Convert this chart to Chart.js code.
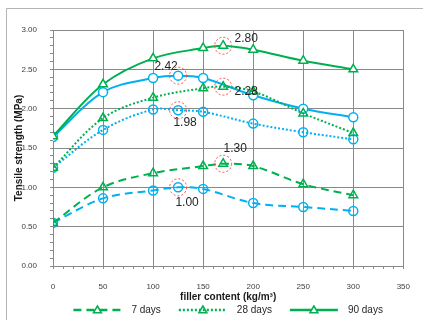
<!DOCTYPE html>
<html><head><meta charset="utf-8">
<script src="https://cdn.jsdelivr.net/npm/chart.js@4/dist/chart.umd.min.js"></script>
<style>html,body{margin:0;padding:0;background:#fff;overflow:hidden}#wrap{position:absolute;left:0;top:0;width:423px;height:320px}</style>
</head><body><div id="wrap"><canvas id="c" width="423" height="320"></canvas></div>
<script>
// ---- data ----
const xGreen = [0, 50, 100, 150, 170, 200, 250, 300];
const xBlue = [0, 50, 100, 125, 150, 200, 250, 300];
const days7 = [0.55, 1.00, 1.18, 1.27, 1.30, 1.27, 1.04, 0.90];
const days28 = [1.25, 1.88, 2.14, 2.26, 2.28, 2.22, 1.94, 1.69];
const days90 = [1.65, 2.31, 2.64, 2.77, 2.80, 2.75, 2.61, 2.50];
const blue7 = [0.55, 0.86, 0.96, 1.00, 0.98, 0.80, 0.75, 0.70];
const blue28 = [1.25, 1.73, 1.99, 1.98, 1.96, 1.81, 1.70, 1.61];
const blue90 = [1.64, 2.21, 2.39, 2.42, 2.39, 2.17, 2.00, 1.89];
const seriesLabels = ['7 days', '28 days', '90 days'];
const annX = [170, 125, 170, 125, 170, 125];
const annY = [2.80, 2.42, 2.28, 1.98, 1.30, 1.00];
const annText = ['2.80', '2.42', '2.28', '1.98', '1.30', '1.00'];
const xMin = 0, xMax = 350, xMajor = 50, xMinor = 10;
const yMin = 0, yMax = 3, yMajor = 0.5, yMinor = 0.1;
const xTitle = 'filler content (kg/m³)';
const yTitle = 'Tensile strength (MPa)';

// ---- styles ----
const GREEN = '#00B050', BLUE = '#00B0F0', GRID = '#898989';
const annOffsets = [[23, -7], [-12, -9], [23, 5], [7, 12], [12, -15], [9, 15]];
const pts = (xs, ys) => xs.map((x, i) => ({x: x, y: ys[i]}));
const isMajor = (v, step) => Math.abs(v / step - Math.round(v / step)) < 1e-6;

function ds(label, xs, ys, color, dash, style, order, inLegend, fill) {
  return {
    label: label, data: pts(xs, ys), borderColor: color, borderWidth: 2,
    borderDash: dash, tension: 0.35, pointStyle: style,
    pointRadius: style === 'triangle' ? 5 : 4.5,
    pointBorderColor: color, pointBorderWidth: 1.5,
    pointBackgroundColor: fill, order: order, inLegend: inLegend, fill: false
  };
}

const datasets = [
  ds(seriesLabels[0], xGreen, days7, GREEN, [8, 5], 'triangle', 0, true, 'rgba(255,255,255,0)'),
  ds(seriesLabels[1], xGreen, days28, GREEN, [2, 2], 'triangle', 0, true, 'rgba(255,255,255,0)'),
  ds(seriesLabels[2], xGreen, days90, GREEN, [], 'triangle', 0, true, '#ffffff'),
  ds('', xBlue, blue7, BLUE, [8, 5], 'circle', 1, false, 'rgba(255,255,255,0)'),
  ds('', xBlue, blue28, BLUE, [2, 2], 'circle', 1, false, 'rgba(255,255,255,0)'),
  ds('', xBlue, blue90, BLUE, [], 'circle', 1, false, '#ffffff')
];

const framePlugin = {
  id: 'frame',
  beforeDraw(chart) {
    const c = chart.ctx;
    c.save();
    c.fillStyle = '#fff';
    c.fillRect(0, 0, chart.width, chart.height);
    c.strokeStyle = '#b4b4b4'; c.lineWidth = 1;
    c.beginPath();
    c.moveTo(6.5, chart.height); c.lineTo(6.5, 8.5); c.lineTo(chart.width, 8.5);
    c.stroke();
    c.restore();
  }
};

const annPlugin = {
  id: 'ann',
  afterDatasetsDraw(chart) {
    const c = chart.ctx, xs = chart.scales.x, ys = chart.scales.y;
    c.save();
    annX.forEach((v, i) => {
      const px = xs.getPixelForValue(v), py = ys.getPixelForValue(annY[i]);
      c.beginPath();
      c.setLineDash([2, 2]);
      c.strokeStyle = 'rgba(255,70,70,1)'; c.lineWidth = 1;
      c.arc(px, py, 8.5, 0, Math.PI * 2);
      c.stroke();
      c.setLineDash([]);
      c.fillStyle = '#262626';
      c.font = '12px "Liberation Sans", Arial, sans-serif';
      c.textAlign = 'center'; c.textBaseline = 'middle';
      c.fillText(annText[i], px + annOffsets[i][0], py + annOffsets[i][1]);
    });
    c.restore();
  }
};

const legendPlugin = {
  id: 'customLegend',
  afterDraw(chart) {
    const c = chart.ctx;
    const items = chart.data.datasets.filter(d => d.inLegend);
    c.save();
    c.font = '10px "Liberation Sans", Arial, sans-serif';
    const lineLen = 48, gapText = 10, gapItem = 18;
    const widths = items.map(d => lineLen + gapText + c.measureText(d.label).width);
    const total = widths.reduce((a, b) => a + b, 0) + gapItem * (items.length - 1);
    const ca = chart.chartArea;
    let x = (ca.left + ca.right) / 2 - total / 2;
    const y = 310;
    items.forEach((d, i) => {
      c.strokeStyle = d.borderColor; c.lineWidth = 2.5;
      c.setLineDash(d.borderDash);
      c.beginPath(); c.moveTo(x, y); c.lineTo(x + lineLen, y); c.stroke();
      c.setLineDash([]);
      const mx = x + lineLen / 2, r = 4;
      c.beginPath();
      c.moveTo(mx, y - r); c.lineTo(mx + r, y + r * 0.7); c.lineTo(mx - r, y + r * 0.7); c.closePath();
      c.fillStyle = d.pointBackgroundColor; c.fill();
      c.lineWidth = 1.5; c.strokeStyle = d.borderColor; c.stroke();
      c.fillStyle = '#262626'; c.textAlign = 'left'; c.textBaseline = 'middle';
      c.fillText(d.label, x + lineLen + gapText, y);
      x += widths[i] + gapItem;
    });
    c.restore();
  }
};

new Chart(document.getElementById('c'), {
  type: 'line',
  data: {datasets: datasets},
  plugins: [framePlugin, annPlugin, legendPlugin],
  options: {
    responsive: false, animation: false, devicePixelRatio: 1,
    layout: {padding: {left: 0, top: 30, right: 15, bottom: 0}},
    plugins: {legend: {display: false}, tooltip: {enabled: false}},
    scales: {
      x: {
        type: 'linear', min: xMin, max: xMax,
        afterFit: s => { s.height = 54; },
        border: {display: true, color: GRID, width: 1},
        grid: {
          color: ctx => isMajor(ctx.tick.value, xMajor) ? GRID : 'rgba(0,0,0,0)',
          tickColor: GRID, tickLength: 3, lineWidth: 1
        },
        ticks: {
          stepSize: xMinor, autoSkip: false, maxRotation: 0, padding: 13,
          color: '#404040', font: {size: 8, family: '"Liberation Sans", Arial, sans-serif'},
          callback: v => isMajor(v, xMajor) ? String(Math.round(v)) : ''
        },
        title: {display: true, text: xTitle, color: '#1a1a1a',
          font: {size: 10, weight: 'bold', family: '"Liberation Sans", Arial, sans-serif'},
          padding: {top: 0, bottom: 17}}
      },
      y: {
        type: 'linear', min: yMin, max: yMax,
        afterFit: s => { s.width = 53; },
        border: {display: true, color: GRID, width: 1},
        grid: {
          color: ctx => isMajor(ctx.tick.value, yMajor) ? GRID : 'rgba(0,0,0,0)',
          tickColor: GRID, tickLength: 3, lineWidth: 1
        },
        ticks: {
          stepSize: yMinor, autoSkip: false, padding: 13,
          color: '#404040', font: {size: 8, family: '"Liberation Sans", Arial, sans-serif'},
          callback: v => isMajor(v, yMajor) ? v.toFixed(2) : ''
        },
        title: {display: true, text: yTitle, color: '#1a1a1a',
          font: {size: 10, weight: 'bold', family: '"Liberation Sans", Arial, sans-serif'},
          padding: {top: 13, bottom: 0}}
      }
    }
  }
});
</script>
</body></html>
